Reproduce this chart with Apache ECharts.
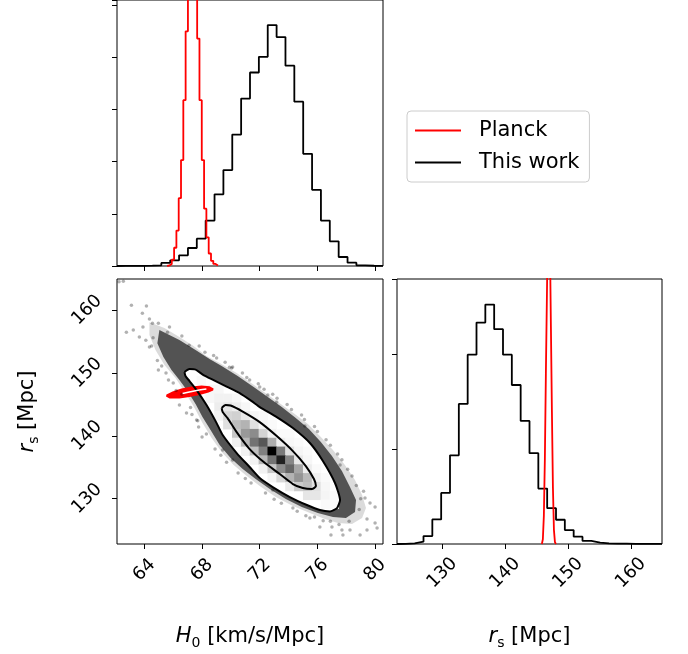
<!DOCTYPE html>
<html><head><meta charset="utf-8">
<script src="https://cdn.jsdelivr.net/npm/echarts@6/dist/echarts.min.js"></script>
<style>html,body{margin:0;padding:0;background:#fff}#c{width:688px;height:654px}</style>
</head><body><div id="c"></div><script>
// ---------- data ----------
const h0Ticks = [64, 68, 72, 76, 80];
const rsTicks = [130, 140, 150, 160];

const h0Edges = [62.100,62.715,63.330,63.945,64.560,65.175,65.790,66.405,67.020,67.635,68.250,68.865,69.480,70.095,70.710,71.325,71.940,72.555,73.170,73.785,74.400,75.015,75.630,76.245,76.860,77.475,78.090,78.705,79.320,79.935,80.550];
const h0ThisWork = [0.002,0.003,0.004,0.006,0.013,0.058,0.109,0.205,0.345,0.524,0.87,1.375,1.84,2.52,3.21,3.71,4.01,4.62,4.39,3.84,3.15,2.15,1.46,0.87,0.473,0.173,0.064,0.013,0.005,0.002];

const h0PlanckEdges = [65.58,65.74,65.90,66.06,66.22,66.38,66.54,66.70,66.86,67.02,67.18,67.34,67.50,67.66,67.82,67.98,68.14,68.30,68.46,68.62,68.78,68.94,69.10];
const h0Planck = [0.01,0.04,0.12,0.35,0.68,1.30,2.03,3.18,4.5,5.8,6.6,6.9,6.2,4.36,3.18,2.03,1.1,0.55,0.24,0.1,0.04,0.01];

const rsEdges = [122.800,124.205,125.610,127.015,128.420,129.825,131.230,132.635,134.040,135.445,136.850,138.255,139.660,141.065,142.470,143.875,145.280,146.685,148.090,149.495,150.900,152.305,153.710,155.115,156.520,157.925,159.330,160.735,162.140,163.545,164.950];
const rsThisWork = [0.002,0.007,0.025,0.084,0.26,0.54,0.937,1.48,2.0,2.34,2.53,2.27,2.0,1.68,1.30,0.96,0.586,0.379,0.256,0.147,0.077,0.032,0.014,0.007,0.004,0.003,0.002,0.001,0.001,0.001];

const rsPlanckEdges = [145.84,146.00,146.16,146.32,146.48,146.64,146.80,146.96,147.12,147.28,147.44,147.60,147.76,147.92,148.08];
const rsPlanck = [0.005,0.05,0.3,0.9,1.8,2.6,3.4,3.8,3.2,2.3,1.4,0.6,0.15,0.02];

// 2D panel: scatter-cloud envelopes [H0, rs]
const cloudHalo = [[64.35,158.09],[65.39,157.14],[66.43,155.71],[67.41,154.28],[68.31,152.69],[69.22,151.57],[70.40,149.98],[71.51,148.24],[72.49,146.65],[73.46,145.06],[74.43,143.47],[75.34,141.88],[76.24,139.81],[77.08,137.74],[77.91,135.36],[78.61,132.97],[79.10,130.59],[79.37,128.52],[79.10,126.93],[78.40,125.98],[77.43,126.14],[76.52,126.77],[75.48,127.73],[74.30,128.84],[73.11,130.27],[72.00,132.02],[71.10,133.61],[70.19,135.36],[69.36,137.42],[68.66,139.65],[68.03,142.03],[67.48,144.42],[66.85,146.80],[66.16,149.19],[65.39,151.26],[64.77,153.64],[64.35,156.03]];
const cloudCore = [[65.04,156.82],[66.43,155.23],[67.55,153.64],[68.52,152.21],[69.36,151.10],[70.47,149.51],[71.58,147.76],[72.56,146.17],[73.53,144.58],[74.50,142.83],[75.41,141.08],[76.24,139.01],[77.01,136.79],[77.70,134.40],[78.26,131.86],[78.68,129.79],[78.61,127.89],[77.98,126.93],[77.08,127.09],[76.03,127.73],[74.92,128.68],[73.81,129.95],[72.70,131.54],[71.72,133.13],[70.82,134.72],[69.98,136.47],[69.22,138.54],[68.59,140.92],[68.03,142.99],[67.55,145.06],[66.99,147.12],[66.43,148.87],[65.88,150.46],[65.32,152.53],[64.90,154.75]];
const cloudPoints = [[62.24,164.50],[62.54,164.61],[63.10,160.79],[64.14,160.64],[63.86,159.52],[64.35,158.57],[64.97,157.93],[62.75,156.50],[63.23,156.82],[63.65,155.71],[64.35,154.12],[64.97,150.46],[65.67,148.87],[66.43,144.90],[66.92,143.62],[67.62,142.51],[69.01,152.37],[70.05,150.78],[71.30,148.87],[72.00,147.76],[67.76,141.40],[70.12,150.94],[72.56,146.49],[73.18,145.37],[69.43,137.74],[70.12,136.15],[75.13,141.56],[77.57,135.36],[79.30,130.11],[79.65,129.32],[80.00,126.14],[80.14,125.34],[78.96,124.23],[79.44,125.02],[78.26,125.02],[77.70,125.02],[77.01,125.50],[76.17,125.50],[76.94,124.23],[77.77,124.23],[72.90,131.38],[74.30,128.52],[75.48,126.93],[79.44,126.77],[80.00,128.68],[64.56,157.93],[65.74,157.30],
 [66.6,155.9],[67.8,154.3],[68.8,152.8],[69.6,151.7],[70.8,150.0],[71.9,148.3],[72.9,146.6],[73.9,145.0],[74.9,143.3],[75.8,141.5],[76.6,139.4],[77.4,137.1],[78.1,134.7],[78.7,132.1],[79.0,130.0],
 [76.9,126.4],[75.8,127.1],[74.6,128.0],[73.5,129.3],[72.4,130.9],[71.4,132.5],[70.5,134.1],[69.7,135.8],[68.9,137.9],[68.3,140.3],[67.7,142.4],[67.2,144.5],[66.6,146.6],[66.0,148.4],[65.5,150.0],[64.9,152.0],[64.5,154.3],
 [67.1,154.4],[68.2,153.3],[69.9,150.9],[71.1,149.3],[72.3,147.4],[73.2,146.0],[74.2,144.2],[75.1,142.6],[76.0,140.7],[76.9,138.5],[77.7,136.2],[78.4,133.6],[79.2,131.2],[78.9,128.3],[78.2,126.4],[77.5,125.9],[76.4,126.5],[75.2,127.3],[73.0,129.9],[71.0,133.2],[69.3,136.9],[68.0,139.8],[67.3,143.4],[66.2,147.2],[65.2,151.1],[64.6,155.6],[65.6,156.5],[63.9,157.3],[64.1,155.2]];

// contours of "This work"
const outerContour = [[66.78,150.14],[67.13,150.62],[67.55,150.54],[68.10,149.67],[68.80,148.87],[69.70,147.84],[70.61,146.80],[71.44,145.53],[72.00,144.58],[73.18,142.99],[74.30,141.24],[75.48,138.86],[76.38,136.00],[77.22,132.50],[77.57,129.79],[77.36,128.52],[76.87,127.97],[76.17,128.20],[75.27,129.00],[74.09,130.27],[72.90,131.86],[72.00,133.29],[71.30,135.04],[70.40,137.27],[69.43,140.13],[69.01,142.03],[68.31,144.90],[67.62,147.28],[67.13,148.71],[66.85,149.51],[66.78,150.14]];
const innerContour = [[69.36,144.42],[69.63,144.90],[69.98,144.82],[70.82,143.86],[72.00,142.19],[73.18,139.97],[74.30,137.58],[75.20,135.20],[75.76,133.13],[75.90,132.02],[75.62,131.54],[74.99,131.70],[74.30,132.34],[73.39,133.93],[72.28,135.83],[71.30,137.90],[70.40,140.60],[69.77,142.83],[69.43,143.78],[69.36,144.42]];

// Planck 2D contour
const planckEllipse = [[68.80,147.52],[68.52,147.89],[67.97,148.00],[67.27,147.84],[66.57,147.52],[65.95,147.04],[65.53,146.57],[65.50,146.25],[65.74,145.96],[66.43,145.93],[67.13,146.17],[67.83,146.49],[68.45,146.88],[68.77,147.20]];
const planckInner = [[66.65,146.75],[67.20,147.02],[67.80,147.28],[68.30,147.45]];

// 2D histogram cells [H0 bin, rs bin, density 0..1]
const densityCells = [
 [9,18,0.02],
 [10,17,0.03],[11,17,0.03],
 [10,16,0.03],[11,16,0.05],[12,16,0.05],[13,16,0.03],
 [11,15,0.07],[12,15,0.10],[13,15,0.07],[14,15,0.03],
 [11,14,0.05],[12,14,0.16],[13,14,0.18],[14,14,0.09],[15,14,0.04],[16,14,0.02],
 [12,13,0.12],[13,13,0.26],[14,13,0.30],[15,13,0.12],[16,13,0.04],[17,13,0.02],
 [13,12,0.22],[14,12,0.40],[15,12,0.45],[16,12,0.17],[17,12,0.05],[18,12,0.02],[19,12,0.02],
 [13,11,0.06],[14,11,0.28],[15,11,0.55],[16,11,0.66],[17,11,0.32],[18,11,0.07],[19,11,0.03],[20,11,0.02],
 [14,10,0.05],[15,10,0.25],[16,10,0.50],[17,10,1.00],[18,10,0.52],[19,10,0.12],[20,10,0.04],[21,10,0.02],
 [15,9,0.05],[16,9,0.28],[17,9,0.55],[18,9,0.87],[19,9,0.47],[20,9,0.09],[21,9,0.03],
 [16,8,0.05],[17,8,0.22],[18,8,0.45],[19,8,0.60],[20,8,0.35],[21,8,0.07],[22,8,0.02],
 [17,7,0.04],[18,7,0.15],[19,7,0.30],[20,7,0.42],[21,7,0.28],[22,7,0.06],[23,7,0.02],
 [19,6,0.08],[20,6,0.20],[21,6,0.25],[22,6,0.12],[23,6,0.03],
 [21,5,0.10],[22,5,0.10],[23,5,0.04],[24,5,0.02],
 [23,4,0.02],[24,4,0.02]
];

// ---------- helpers ----------
function steps(edges, vals) {
  const d = [[edges[0], 0]];
  for (let i = 0; i < vals.length; i++) { d.push([edges[i], vals[i]]); d.push([edges[i + 1], vals[i]]); }
  d.push([edges[vals.length], 0]);
  return d;
}
function polygon(name, pts, style) {
  return { name, type: 'custom', xAxisIndex: 1, yAxisIndex: 1, clip: true, silent: true, data: [0],
    renderItem: (p, api) => ({ type: 'polygon', shape: { points: pts.map(q => api.coord(q)) }, style }) };
}
const FONT = 'DejaVu Sans';
const tick = (vals) => ({ show: true, length: 5, lineStyle: { color: '#000', width: 1 }, customValues: vals });
const noTickLab = { show: false };
const lab = (vals, margin) => ({ show: true, customValues: vals, rotate: 45, align: 'center', verticalAlign: 'middle', margin, fontSize: 18, color: '#000', fontFamily: FONT });
const nameStyle = { fontSize: 21, color: '#000', fontFamily: FONT, lineHeight: 26,
  rich: { it: { fontStyle: 'italic', fontSize: 21, fontFamily: FONT, color: '#000', lineHeight: 26 },
          sub: { fontSize: 14, fontFamily: FONT, color: '#000', lineHeight: 14, verticalAlign: 'bottom' } } };
const cats = Array.from({ length: 30 }, (_, i) => String(i));
const gridBox = { show: true, borderColor: '#000', borderWidth: 1, backgroundColor: '#fff' };

const chart = echarts.init(document.getElementById('c'));
chart.setOption({
  animation: false,
  backgroundColor: '#fff',
  grid: [
    Object.assign({ left: 117, top: 0, width: 266, height: 266 }, gridBox),
    Object.assign({ left: 117, top: 279, width: 266, height: 265 }, gridBox),
    Object.assign({ left: 397, top: 279, width: 265, height: 265 }, gridBox),
    { left: 117, top: 279, width: 266, height: 265, show: false }
  ],
  xAxis: [
    { gridIndex: 0, type: 'value', min: 62.1, max: 80.55, axisLine: { show: false }, splitLine: { show: false }, axisTick: tick(h0Ticks), axisLabel: noTickLab },
    { gridIndex: 1, type: 'value', min: 62.1, max: 80.55, axisLine: { show: false }, splitLine: { show: false }, axisTick: tick(h0Ticks), axisLabel: lab(h0Ticks, 26),
      name: '{it|H}{sub|0} [km/s/Mpc]', nameLocation: 'middle', nameGap: 80, nameTextStyle: nameStyle },
    { gridIndex: 2, type: 'value', min: 122.8, max: 164.95, axisLine: { show: false }, splitLine: { show: false }, axisTick: tick(rsTicks), axisLabel: lab(rsTicks, 29),
      name: '{it|r}{sub|s} [Mpc]', nameLocation: 'middle', nameGap: 80, nameTextStyle: nameStyle },
    { gridIndex: 3, type: 'category', data: cats, show: false }
  ],
  yAxis: [
    { gridIndex: 0, type: 'value', min: 0, max: 5.10, interval: 1, axisLine: { show: false }, splitLine: { show: false }, axisTick: { show: true, length: 5, lineStyle: { color: '#000', width: 1 } }, axisLabel: noTickLab },
    { gridIndex: 1, type: 'value', min: 122.8, max: 164.95, axisLine: { show: false }, splitLine: { show: false }, axisTick: tick(rsTicks), axisLabel: lab(rsTicks, 30),
      name: '{it|r}{sub|s} [Mpc]', nameLocation: 'middle', nameGap: 76, nameTextStyle: nameStyle },
    { gridIndex: 2, type: 'value', min: 0, max: 2.80, interval: 1, axisLine: { show: false }, splitLine: { show: false }, axisTick: { show: true, length: 5, lineStyle: { color: '#000', width: 1 } }, axisLabel: noTickLab },
    { gridIndex: 3, type: 'category', data: cats, show: false }
  ],
  visualMap: [{ type: 'continuous', show: false, min: 0, max: 1, seriesIndex: 4, inRange: { color: ['#ffffff', '#000000'] } }],
  legend: {
    left: 407, top: 111, orient: 'vertical', padding: [9, 10, 9, 8], itemGap: 11, itemWidth: 46, itemHeight: 2,
    backgroundColor: '#fff', borderColor: '#cccccc', borderWidth: 1, borderRadius: 4, selectedMode: false,
    textStyle: { fontSize: 21, fontFamily: FONT, color: '#000', padding: [0, 0, 0, 13] },
    data: [{ name: 'Planck', icon: 'rect', itemStyle: { color: '#ff0000' } },
           { name: 'This work', icon: 'rect', itemStyle: { color: '#000000' } }]
  },
  series: [
    polygon('cloudHalo', cloudHalo, { fill: 'rgba(0,0,0,0.14)' }),
    polygon('cloudCore', cloudCore, { fill: 'rgba(0,0,0,0.62)' }),
    { name: 'cloudPoints', type: 'scatter', xAxisIndex: 1, yAxisIndex: 1, symbolSize: 3.5, silent: true,
      itemStyle: { color: 'rgba(0,0,0,0.38)' }, data: cloudPoints },
    polygon('outerFill', outerContour, { fill: '#ffffff' }),
    { name: 'density', type: 'heatmap', xAxisIndex: 3, yAxisIndex: 3, data: densityCells, silent: true,
      itemStyle: { borderWidth: 0 }, emphasis: { disabled: true } },
    { name: 'inner', type: 'line', xAxisIndex: 1, yAxisIndex: 1, data: innerContour, symbol: 'none', smooth: 0.2,
      lineStyle: { color: '#000', width: 2 }, silent: true },
    { name: 'outer', type: 'line', xAxisIndex: 1, yAxisIndex: 1, data: outerContour, symbol: 'none', smooth: 0.2,
      lineStyle: { color: '#000', width: 2 }, silent: true },
    polygon('planck2d', planckEllipse, { fill: '#ff0000' }),
    { name: 'planckInner', type: 'line', xAxisIndex: 1, yAxisIndex: 1, data: planckInner, symbol: 'none', smooth: 0.4,
      lineStyle: { color: '#ffffff', width: 1.5 }, silent: true },
    { name: 'This work', type: 'line', xAxisIndex: 0, yAxisIndex: 0, data: steps(h0Edges, h0ThisWork), symbol: 'none',
      lineStyle: { color: '#000', width: 1.8 }, itemStyle: { color: '#000' }, silent: true },
    { name: 'Planck', type: 'line', xAxisIndex: 0, yAxisIndex: 0, data: steps(h0PlanckEdges, h0Planck), symbol: 'none',
      lineStyle: { color: '#ff0000', width: 1.8 }, itemStyle: { color: '#ff0000' }, silent: true },
    { name: 'This work', type: 'line', xAxisIndex: 2, yAxisIndex: 2, data: steps(rsEdges, rsThisWork), symbol: 'none',
      lineStyle: { color: '#000', width: 1.8 }, itemStyle: { color: '#000' }, silent: true },
    { name: 'Planck', type: 'line', xAxisIndex: 2, yAxisIndex: 2, data: steps(rsPlanckEdges, rsPlanck), symbol: 'none',
      lineStyle: { color: '#ff0000', width: 1.8 }, itemStyle: { color: '#ff0000' }, silent: true }
  ]
});
</script></body></html>
